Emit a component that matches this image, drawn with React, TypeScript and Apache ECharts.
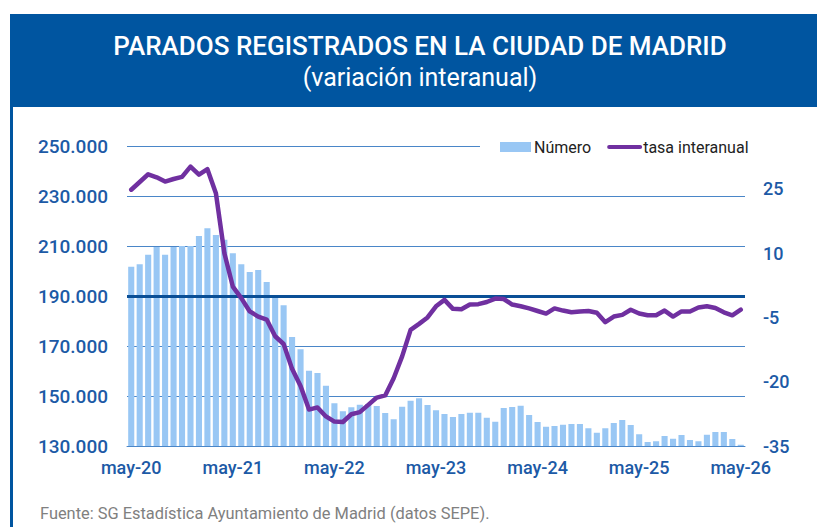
import React, { useEffect, useRef } from "react";
import * as echarts from "echarts";

const MONTHS = ["ene", "feb", "mar", "abr", "may", "jun", "jul", "ago", "sep", "oct", "nov", "dic"];
const START_YEAR = 2020;
const START_MONTH = 4; // may
const N = 73;
const categories: string[] = [];
for (let i = 0; i < N; i++) {
  const m = (START_MONTH + i) % 12;
  const y = START_YEAR + Math.floor((START_MONTH + i) / 12);
  categories.push(`${MONTHS[m]}-${String(y).slice(2)}`);
}

const numero = [
  201700, 202700, 206500, 209600, 206500, 209600, 210000, 210000, 214000, 217100, 214400, 212500,
  207100, 202700, 199600, 200400, 195600, 189600, 186300, 173600, 168700, 160100, 159200, 154100,
  147100, 143900, 145500, 146500, 146800, 146000, 143200, 140700, 145700, 148100, 149100, 146400,
  144300, 142800, 141600, 142800, 143300, 143300, 141300, 139700, 145200, 145600, 146100, 142400,
  139600, 137700, 138000, 138500, 138800, 138800, 137100, 135300, 137100, 139200, 140400, 138400,
  134700, 131600, 131900, 134000, 132900, 134400, 132400, 131900, 134500, 135600, 135600, 132800,
  130500,
];

const tasa = [
  24.8, 26.6, 28.4, 27.7, 26.7, 27.3, 27.8, 30.2, 28.3, 29.6, 24.0, 10.0,
  2.2, -0.5, -3.6, -4.8, -5.5, -9.4, -11.2, -17.0, -21.0, -26.5, -26.0, -28.1,
  -29.3, -29.4, -27.6, -27.1, -25.4, -23.7, -23.2, -19.2, -14.1, -7.9, -6.5, -5.0,
  -2.4, -0.9, -3.0, -3.1, -2.0, -1.9, -1.4, -0.6, -0.7, -2.0, -2.4, -2.9,
  -3.5, -4.1, -2.9, -3.4, -3.8, -3.6, -3.5, -3.9, -6.1, -4.8, -4.4, -3.2,
  -4.1, -4.5, -4.5, -3.4, -4.8, -3.6, -3.6, -2.7, -2.4, -2.8, -3.8, -4.5,
  -3.2,
];

const LEFT_MIN = 130000;
const LEFT_MAX = 250000;
const LEFT_STEP = 20000;
const REF_LINE = 190000;
const RIGHT_MIN = -35;
const RIGHT_MAX = 35;
const RIGHT_STEP = 15;

const TITLE = "PARADOS REGISTRADOS EN LA CIUDAD DE MADRID";
const SUBTITLE = "(variación interanual)";
const SOURCE = "Fuente: SG Estadística Ayuntamiento de Madrid (datos SEPE).";

const fmtThousands = (v: number) => String(Math.round(v)).replace(/\B(?=(\d{3})+(?!\d))/g, ".");

export default function App() {
  const ref = useRef<HTMLDivElement>(null);
  useEffect(() => {
    if (!ref.current) return;
    const chart = echarts.init(ref.current, undefined, { renderer: "svg" });
    const axisColor = "#1c5aa6";
    const font = "Roboto, 'Noto Sans', sans-serif";
    chart.setOption({
      animation: false,
      backgroundColor: "#ffffff",
      textStyle: { fontFamily: font },
      graphic: [
        { type: "rect", shape: { x: 10, y: 14, width: 807, height: 93 }, style: { fill: "#0055a0" } },
        { type: "rect", shape: { x: 10, y: 107, width: 3, height: 420 }, style: { fill: "#0055a0" } },
        {
          type: "text", x: 420, y: 46,
          style: { text: TITLE, fill: "#ffffff", fontSize: 26, fontWeight: 500, fontFamily: font, textAlign: "center", textVerticalAlign: "middle" },
        },
        {
          type: "text", x: 420, y: 77,
          style: { text: SUBTITLE, fill: "#ffffff", fontSize: 25, fontFamily: font, textAlign: "center", textVerticalAlign: "middle" },
        },
        {
          type: "text", x: 40, y: 513,
          style: { text: SOURCE, fill: "#808080", fontSize: 16.4, fontFamily: font, textAlign: "left", textVerticalAlign: "middle" },
        },
      ],
      legend: {
        left: 480,
        top: 136,
        padding: [3, 4, 3, 20],
        backgroundColor: "#ffffff",
        itemGap: 16,
        itemWidth: 31,
        itemHeight: 10,
        textStyle: { color: "#222222", fontSize: 16, fontFamily: font, padding: [0, 0, 0, -2] },
        data: [
          { name: "Número", icon: "rect" },
          { name: "tasa interanual", itemStyle: { opacity: 0 }, lineStyle: { width: 4 } },
        ],
      },
      grid: { left: 127, right: 72, top: 146, bottom: 81, containLabel: false },
      xAxis: {
        type: "category",
        data: categories,
        boundaryGap: true,
        axisTick: { show: false },
        axisLine: { lineStyle: { color: "#4a86c8", width: 1 } },
        axisLabel: { interval: 11, color: axisColor, fontSize: 18, fontWeight: 500, margin: 12, fontFamily: font },
      },
      yAxis: [
        {
          type: "value",
          min: 0,
          max: LEFT_MAX - LEFT_MIN,
          interval: LEFT_STEP,
          axisLine: { show: false },
          axisTick: { show: false },
          splitLine: { lineStyle: { color: "#4a86c8", width: 1 } },
          axisLabel: {
            color: axisColor, fontSize: 19, fontWeight: 500, margin: 19, fontFamily: font,
            formatter: (v: number) => fmtThousands(v + LEFT_MIN),
          },
        },
        {
          type: "value",
          min: 0,
          max: RIGHT_MAX - RIGHT_MIN,
          interval: RIGHT_STEP,
          axisLine: { show: false },
          axisTick: { show: false },
          splitLine: { show: false },
          axisLabel: {
            color: axisColor, fontSize: 18, fontWeight: 500, margin: 18, fontFamily: font,
            formatter: (v: number) => (v > RIGHT_MAX - RIGHT_MIN - 1 ? "" : String(v + RIGHT_MIN)),
          },
        },
      ],
      series: [
        {
          name: "Número",
          type: "bar",
          yAxisIndex: 0,
          data: numero.map((v) => v - LEFT_MIN),
          barCategoryGap: "28%",
          itemStyle: { color: "#99c7f4" },
          markLine: {
            silent: true,
            symbol: "none",
            label: { show: false },
            lineStyle: { color: "#0a4f96", width: 3, type: "solid" },
            data: [{ yAxis: REF_LINE - LEFT_MIN }],
          },
        },
        {
          name: "tasa interanual",
          type: "line",
          yAxisIndex: 1,
          data: tasa.map((v) => v - RIGHT_MIN),
          symbol: "none",
          lineStyle: { color: "#7030a0", width: 4.5, cap: "round", join: "round" },
          itemStyle: { color: "#7030a0" },
          z: 5,
        },
      ],
    });
    return () => chart.dispose();
  }, []);
  return <div ref={ref} style={{ position: "fixed", left: 0, top: 0, width: 817, height: 527 }} />;
}
